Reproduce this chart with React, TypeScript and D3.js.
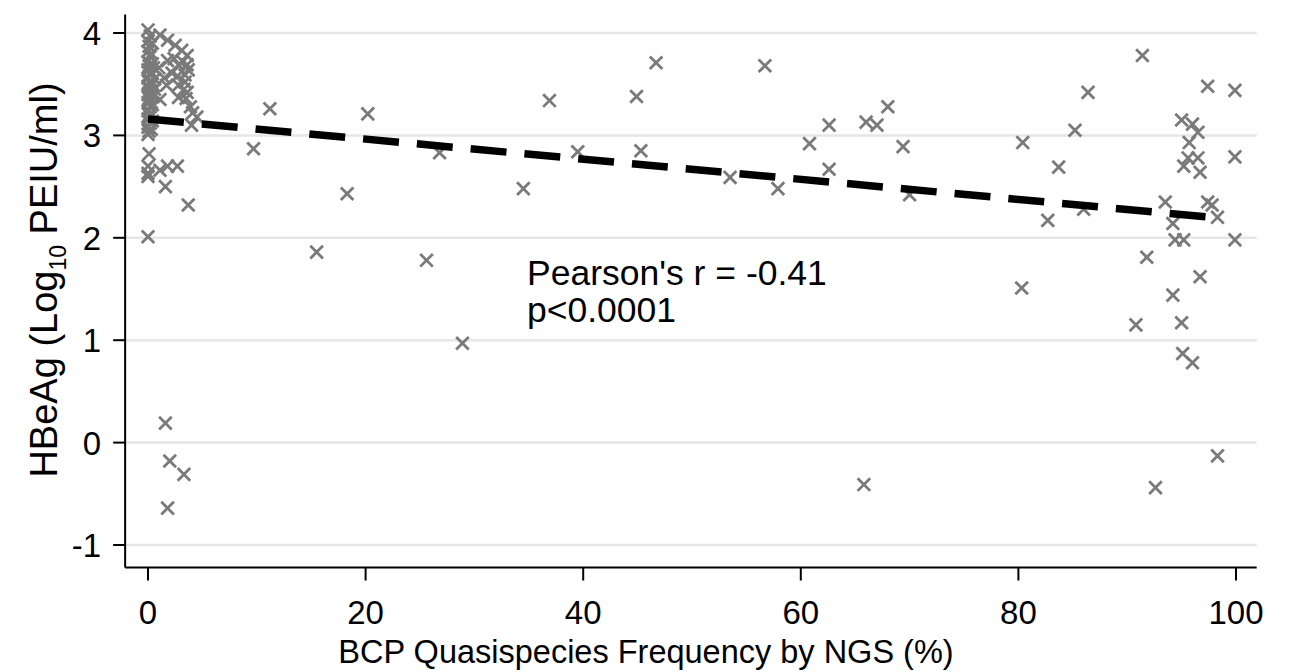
import React from "react";
import * as d3 from "d3";

// x: BCP quasispecies frequency (%), y: HBeAg (log10 PEIU/ml)
const zeroColumn: [number, number][] = [
  [0.0, 4.03], [0.2, 3.97], [0.0, 3.92], [0.1, 3.87], [0.0, 3.82], [0.2, 3.77],
  [0.0, 3.72], [0.1, 3.68], [0.0, 3.64], [0.2, 3.60], [0.0, 3.56], [0.1, 3.52],
  [0.0, 3.48], [0.2, 3.44], [0.0, 3.40], [0.1, 3.36], [0.0, 3.32], [0.2, 3.28],
  [0.0, 3.24], [0.1, 3.20], [0.0, 3.16], [0.2, 3.12], [0.0, 3.08], [0.1, 3.04],
  [0.0, 3.01], [0.1, 2.82], [0.0, 2.70], [0.0, 2.63], [0.0, 2.60], [0.0, 2.01],
  [0.4, 3.90], [0.3, 3.80], [0.4, 3.70], [0.3, 3.62], [0.4, 3.50], [0.3, 3.42],
  [0.4, 3.30], [0.3, 3.22], [0.4, 3.14], [0.3, 3.06], [0.5, 3.66], [0.5, 3.38],
];

const nearZero: [number, number][] = [
  [1.1, 3.98], [1.8, 3.93], [2.5, 3.88], [3.1, 3.83], [3.6, 3.78], [3.6, 3.69],
  [2.8, 3.69], [1.8, 3.73], [1.0, 3.66], [2.2, 3.61], [3.4, 3.59], [3.7, 3.64],
  [0.6, 3.45], [1.7, 3.49], [2.8, 3.49], [3.4, 3.52], [3.6, 3.42], [3.5, 3.36],
  [2.8, 3.37], [1.1, 3.35], [3.9, 3.28], [4.1, 3.22], [4.5, 3.18], [4.0, 3.10],
  [0.6, 3.55], [2.4, 3.75], [3.2, 3.72], [1.5, 3.56], [2.7, 3.58], [3.3, 3.45],
  [1.1, 2.66], [1.8, 2.70], [2.7, 2.70], [1.6, 2.50], [3.7, 2.32],
  [1.6, 0.19], [2.0, -0.18], [3.3, -0.31], [1.8, -0.64],
];

const midRange: [number, number][] = [
  [11.2, 3.26], [9.7, 2.87], [20.2, 3.21], [18.3, 2.43], [15.5, 1.86], [25.6, 1.78],
  [28.9, 0.97], [26.8, 2.83], [36.9, 3.34], [34.5, 2.48], [39.5, 2.84], [44.9, 3.38],
  [45.3, 2.85], [46.7, 3.71], [56.7, 3.68], [53.5, 2.59], [57.9, 2.48], [60.8, 2.92],
  [62.6, 3.10], [62.6, 2.67], [66.0, 3.13], [67.0, 3.10], [68.0, 3.28], [69.4, 2.89],
  [70.0, 2.42], [65.8, -0.41],
];

const highRange: [number, number][] = [
  [80.4, 2.93], [80.3, 1.51], [91.4, 3.78], [86.4, 3.42], [85.2, 3.05], [83.7, 2.69],
  [82.7, 2.17], [86.0, 2.28], [93.5, 2.35], [94.2, 2.14], [94.4, 1.98], [95.2, 1.98],
  [99.9, 1.98], [95.0, 3.15], [96.0, 3.11], [96.5, 3.03], [95.7, 2.93], [95.6, 2.78],
  [96.5, 2.78], [95.2, 2.70], [96.7, 2.64], [97.4, 3.48], [99.9, 3.44], [99.9, 2.79],
  [97.4, 2.35], [97.8, 2.32], [98.3, 2.20], [91.8, 1.81], [96.7, 1.62], [94.2, 1.44],
  [95.0, 1.17], [90.8, 1.15], [95.1, 0.87], [96.0, 0.78], [98.3, -0.13], [92.6, -0.44],
];

const fitLine: [number, number][] = [[0, 3.16], [97.8, 2.2]];

const xTicks = [0, 20, 40, 60, 80, 100];
const yTicks = [-1, 0, 1, 2, 3, 4];

const annotationLines = ["Pearson's r = -0.41", "p<0.0001"];

const FONT = "'Liberation Sans', Arial, Helvetica, sans-serif";

export default function App() {
  const W = 1290, H = 672;
  const x = d3.scaleLinear().domain([0, 100]).range([148, 1236]);
  const y = d3.scaleLinear().domain([-1, 4]).range([545, 33]);
  const left = x(-2.1), right = x(101.9);
  const bottom = y(-1.22), top = y(4.18);

  const allPoints = [...zeroColumn, ...nearZero, ...midRange, ...highRange];
  const line = d3.line<[number, number]>().x((d) => x(d[0])).y((d) => y(d[1]));
  const m = 6.3;
  const cross = `M${-m},${-m}L${m},${m}M${-m},${m}L${m},${-m}`;

  return (
    <div style={{ position: "absolute", left: 0, top: 0 }}>
      <svg width={W} height={H} style={{ display: "block", background: "#fff" }}>
        <rect width={W} height={H} fill="#fff" />
        {yTicks.map((t) => (
          <line key={"g" + t} x1={left} x2={right} y1={y(t)} y2={y(t)} stroke="#e6e6e6" strokeWidth={2.5} />
        ))}
        {allPoints.map((d, i) => (
          <path key={i} d={cross} transform={`translate(${x(d[0])},${y(d[1])})`} stroke="#7a7a7a" strokeWidth={2.8} fill="none" />
        ))}
        <path d={line(fitLine) || ""} stroke="#000" strokeWidth={7.5} strokeDasharray="36 18" fill="none" />
        {/* axes */}
        <line x1={left} x2={left} y1={top} y2={bottom} stroke="#000" strokeWidth={2} />
        <line x1={left} x2={right} y1={bottom} y2={bottom} stroke="#000" strokeWidth={2} />
        {yTicks.map((t) => (
          <g key={"yt" + t}>
            <line x1={left - 12} x2={left} y1={y(t)} y2={y(t)} stroke="#000" strokeWidth={2} />
            <text x={left - 24} y={y(t) + 12} textAnchor="end" fontSize={33} fontFamily={FONT} fill="#000">
              {t}
            </text>
          </g>
        ))}
        {xTicks.map((t) => (
          <g key={"xt" + t}>
            <line x1={x(t)} x2={x(t)} y1={bottom} y2={bottom + 13} stroke="#000" strokeWidth={2} />
            <text x={x(t)} y={624} textAnchor="middle" fontSize={33} fontFamily={FONT} fill="#000">
              {t}
            </text>
          </g>
        ))}
        <text x={646} y={663} textAnchor="middle" fontSize={32.5} fontFamily={FONT} fill="#000">
          BCP Quasispecies Frequency by NGS (%)
        </text>
        <text transform="translate(57,280) rotate(-90)" textAnchor="middle" fontSize={38} fontFamily={FONT} fill="#000">
          HBeAg (Log
          <tspan fontSize={23} dy={9}>10</tspan>
          <tspan dy={-9}> PEIU/ml)</tspan>
        </text>
        {annotationLines.map((s, i) => (
          <text key={s} x={527} y={285 + i * 37} fontSize={35.5} fontFamily={FONT} fill="#000">
            {s}
          </text>
        ))}
      </svg>
    </div>
  );
}
